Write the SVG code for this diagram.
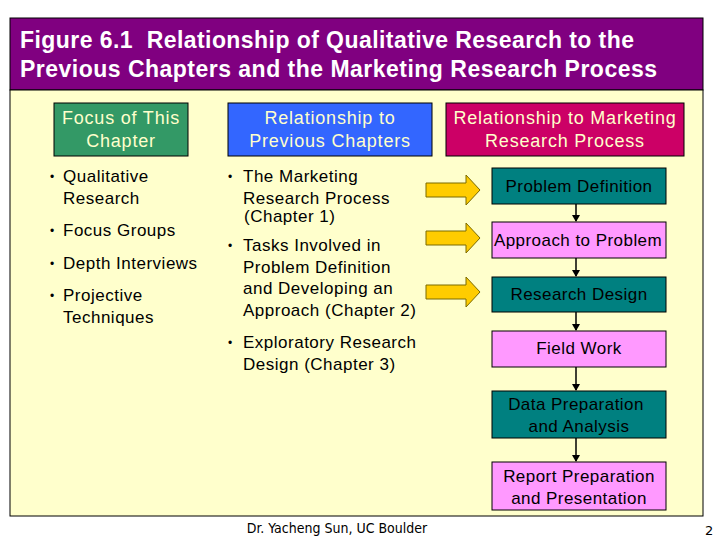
<svg xmlns="http://www.w3.org/2000/svg" width="720" height="540" viewBox="0 0 720 540">
<style>
text{font-family:"Liberation Sans",Arial,sans-serif}
.title{font-size:23px;font-weight:bold;fill:#ffffff}
.hdr{font-size:18px;fill:#ffffcc;text-anchor:middle;letter-spacing:0.8px}
.bul{font-size:17px;fill:#000;letter-spacing:0.5px}
.dot{font-size:12px;fill:#000}
.proc{font-size:17px;fill:#000;text-anchor:middle;letter-spacing:0.45px}
.teal{fill:#008080;stroke:#000;stroke-width:1}
.pink{fill:#ff99ff;stroke:#000;stroke-width:1}
.conn{stroke:#000;stroke-width:1.5;fill:none}
.yarrow{fill:#ffcc00;stroke:#7a6a00;stroke-width:1}
</style>
<defs>
<marker id="ah" markerWidth="8" markerHeight="8" refX="6" refY="4" orient="auto" markerUnits="userSpaceOnUse">
<path d="M0,0 L7,4 L0,8 Z" fill="#000"/>
</marker>
</defs>
<rect x="0" y="0" width="720" height="540" fill="#ffffff"/>
<g id="title">
<rect x="10" y="18" width="693" height="72" fill="#800080" stroke="#000" stroke-width="1"/>
<text class="title" x="20" y="48" textLength="614" lengthAdjust="spacing">Figure 6.1&#160; Relationship of Qualitative Research to the</text>
<text class="title" x="20" y="77" textLength="637" lengthAdjust="spacing">Previous Chapters and the Marketing Research Process</text>
</g>
<g id="panel">
<rect x="10" y="90" width="693" height="426" fill="#ffffcc" stroke="#000" stroke-width="1"/>
</g>
<g id="hdr-focus">
<rect x="54" y="103" width="134" height="53" fill="#339966" stroke="#000" stroke-width="1"/>
<text class="hdr" x="121" y="124">Focus of This</text>
<text class="hdr" x="121" y="147">Chapter</text>
</g>
<g id="hdr-prev">
<rect x="228" y="103" width="204" height="53" fill="#3366ff" stroke="#000" stroke-width="1"/>
<text class="hdr" x="330" y="124">Relationship to</text>
<text class="hdr" x="330" y="147">Previous Chapters</text>
</g>
<g id="hdr-mrp">
<rect x="446" y="103" width="238" height="53" fill="#cc0066" stroke="#000" stroke-width="1"/>
<text class="hdr" x="565" y="124">Relationship to Marketing</text>
<text class="hdr" x="565" y="147">Research Process</text>
</g>
<g id="focus-list">
<text class="dot" x="50" y="181">•</text><text class="bul" x="63" y="182">Qualitative</text>
<text class="bul" x="63" y="204">Research</text>
<text class="dot" x="50" y="235">•</text><text class="bul" x="63" y="236">Focus Groups</text>
<text class="dot" x="50" y="268">•</text><text class="bul" x="63" y="269">Depth Interviews</text>
<text class="dot" x="50" y="300">•</text><text class="bul" x="63" y="301">Projective</text>
<text class="bul" x="63" y="323">Techniques</text>
</g>
<g id="prev-list">
<text class="dot" x="228" y="181">•</text><text class="bul" x="243" y="182">The Marketing</text>
<text class="bul" x="243" y="204">Research Process</text>
<text class="bul" x="244" y="222">(Chapter 1)</text>
<text class="dot" x="228" y="250">•</text><text class="bul" x="243" y="251">Tasks Involved in</text>
<text class="bul" x="243" y="273">Problem Definition</text>
<text class="bul" x="243" y="294">and Developing an</text>
<text class="bul" x="243" y="316">Approach (Chapter 2)</text>
<text class="dot" x="228" y="347">•</text><text class="bul" x="243" y="348">Exploratory Research</text>
<text class="bul" x="243" y="370">Design (Chapter 3)</text>
</g>
<g id="yellow-arrows">
<path class="yarrow" d="M426,183 L466,183 L466,175 L480,190 L466,205 L466,197 L426,197 Z"/>
<path class="yarrow" d="M426,231 L466,231 L466,223 L480,238 L466,253 L466,245 L426,245 Z"/>
<path class="yarrow" d="M426,285 L466,285 L466,277 L480,292 L466,307 L466,299 L426,299 Z"/>
</g>
<g id="p-problem">
<rect class="teal" x="492" y="168" width="174" height="36"/>
<text class="proc" x="579" y="192">Problem Definition</text>
</g>
<g id="p-approach">
<rect class="pink" x="492" y="222" width="174" height="36"/>
<text class="proc" x="578" y="246">Approach to Problem</text>
</g>
<g id="p-design">
<rect class="teal" x="492" y="277" width="174" height="35"/>
<text class="proc" x="579" y="300">Research Design</text>
</g>
<g id="p-field">
<rect class="pink" x="492" y="331" width="174" height="36"/>
<text class="proc" x="579" y="354">Field Work</text>
</g>
<g id="p-data">
<rect class="teal" x="492" y="391" width="174" height="47"/>
<text class="proc" x="576" y="410">Data Preparation</text>
<text class="proc" x="579" y="432">and Analysis</text>
</g>
<g id="p-report">
<rect class="pink" x="492" y="462" width="174" height="48"/>
<text class="proc" x="579" y="482">Report Preparation</text>
<text class="proc" x="579" y="504">and Presentation</text>
</g>
<g id="connectors">
<line class="conn" x1="576" y1="204" x2="576" y2="221" marker-end="url(#ah)"/>
<line class="conn" x1="576" y1="258" x2="576" y2="276" marker-end="url(#ah)"/>
<line class="conn" x1="576" y1="312" x2="576" y2="330" marker-end="url(#ah)"/>
<line class="conn" x1="576" y1="367" x2="576" y2="390" marker-end="url(#ah)"/>
<line class="conn" x1="576" y1="438" x2="576" y2="461" marker-end="url(#ah)"/>
</g>
<g id="footer">
<text x="337" y="533" font-size="14" text-anchor="middle" fill="#000" style="font-family:'DejaVu Sans Condensed','DejaVu Sans',sans-serif">Dr. Yacheng Sun, UC Boulder</text>
<text x="705" y="535" font-size="13" fill="#000" style="font-family:'DejaVu Sans',sans-serif">2</text>
</g>
</svg>
